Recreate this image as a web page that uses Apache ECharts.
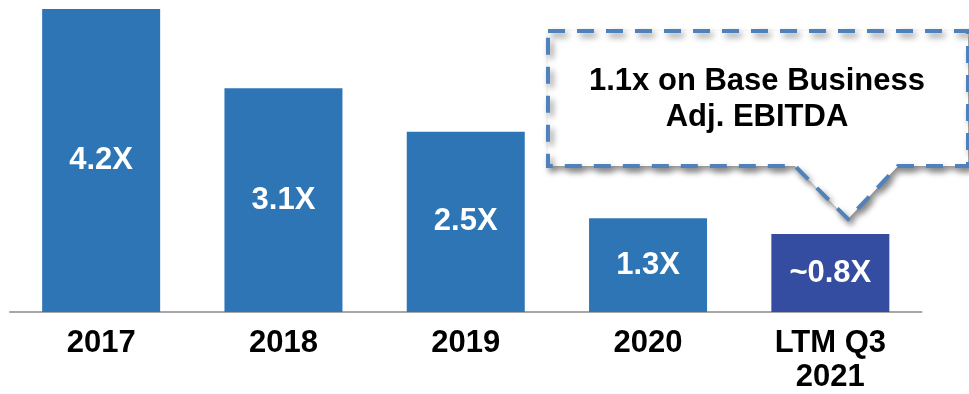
<!DOCTYPE html>
<html><head><meta charset="utf-8">
<script src="https://cdn.jsdelivr.net/npm/echarts@6/dist/echarts.min.js"></script>
<style>html,body{margin:0;padding:0;background:#fff}#c{width:969px;height:394px}</style>
</head><body><div id="c"></div>
<script>
const categories = ['2017', '2018', '2019', '2020', 'LTM Q3\n2021'];
const barValues = [4.2, 3.1, 2.5, 1.3, 1.08];
const barLabels = ['4.2X', '3.1X', '2.5X', '1.3X', '~0.8X'];
const barColors = ['#2E75B6', '#2E75B6', '#2E75B6', '#2E75B6', '#344DA1'];
const calloutLines = ['1.1x on Base Business', 'Adj. EBITDA'];

const chart = echarts.init(document.getElementById('c'));
const FONT = '"Liberation Sans", Arial, sans-serif';
chart.setOption({
  animation: false,
  grid: {left: 10, right: 47.5, top: 9, bottom: 82},
  xAxis: {
    type: 'category', data: categories,
    axisLine: {lineStyle: {color: '#A6A6A6', width: 2}},
    axisTick: {show: false},
    axisLabel: {color: '#000', fontFamily: FONT, fontWeight: 'bold', fontSize: 31, lineHeight: 34, margin: 14, interval: 0}
  },
  yAxis: {type: 'value', min: 0, max: 4.2, show: false, splitLine: {show: false}},
  series: [{
    type: 'bar', barWidth: 118,
    data: barValues.map((v, i) => ({value: v, itemStyle: {color: barColors[i]}})),
    label: {
      show: true, position: 'inside', color: '#fff', fontFamily: FONT, fontWeight: 'bold', fontSize: 31,
      formatter: p => barLabels[p.dataIndex]
    }
  }],
  graphic: [{
    type: 'polygon', z: 100,
    shape: {points: [[548,31],[968,31],[968,166],[898,166],[848,219],[795,166],[548,166]]},
    style: {fill: '#fff', stroke: '#4F81BD', lineWidth: 4, lineDash: [17, 12],
      shadowBlur: 6, shadowOffsetX: 3, shadowOffsetY: 4, shadowColor: 'rgba(0,0,0,0.45)'}
  }, {
    type: 'text', z: 101, x: 757, y: 99,
    style: {text: calloutLines.join('\n'), fill: '#000', font: 'bold 31px ' + FONT, align: 'center', verticalAlign: 'middle', lineHeight: 36}
  }]
});
</script></body></html>
